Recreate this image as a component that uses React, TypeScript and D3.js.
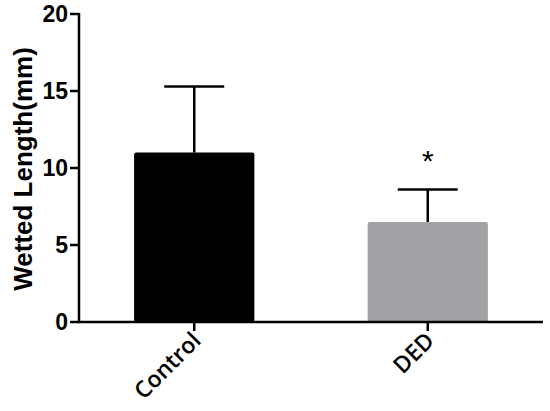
import React, { useEffect, useRef } from 'react';
import * as d3 from 'd3';

const groups = ['Control', 'DED'];
const means = [11.0, 6.5];
const errors = [4.3, 2.1];
const colors = ['#000000', '#a2a2a6'];
const marks = ['', '*'];
const yTicks = [0, 5, 10, 15, 20];

export default function App() {
  const ref = useRef<SVGSVGElement>(null);

  useEffect(() => {
    const svg = d3.select(ref.current);
    svg.selectAll('*').remove();

    const left = 79, right = 543, top = 14, bottom = 322;

    const y = d3.scaleLinear().domain([0, 20]).range([bottom, top]);
    const x = d3.scaleBand().domain(groups).range([left, right]).paddingInner(0.485).paddingOuter(0.236);
    const barW = x.bandwidth();
    const cx = (g: string) => (x(g) as number) + x.bandwidth() / 2;

    // bars
    svg.selectAll('rect.bar')
      .data(groups)
      .enter()
      .append('rect')
      .attr('x', d => cx(d) - barW / 2)
      .attr('y', (d, i) => y(means[i]))
      .attr('width', barW)
      .attr('height', (d, i) => y(0) - y(means[i]))
      .attr('rx', 2)
      .attr('fill', (d, i) => colors[i]);

    // error bars
    groups.forEach((g, i) => {
      svg.append('line')
        .attr('x1', cx(g)).attr('x2', cx(g))
        .attr('y1', y(means[i])).attr('y2', y(means[i] + errors[i]))
        .attr('stroke', 'black').attr('stroke-width', 2.5);
      svg.append('line')
        .attr('x1', cx(g) - 30).attr('x2', cx(g) + 30)
        .attr('y1', y(means[i] + errors[i])).attr('y2', y(means[i] + errors[i]))
        .attr('stroke', 'black').attr('stroke-width', 2.5);
      if (marks[i]) {
        svg.append('text')
          .attr('x', cx(g))
          .attr('y', y(means[i] + errors[i]) - 19)
          .attr('text-anchor', 'middle')
          .attr('font-family', 'Liberation Sans, Arial, sans-serif')
          .attr('font-size', 30)
          .text(marks[i]);
      }
    });

    // y axis
    svg.append('line')
      .attr('x1', left).attr('x2', left)
      .attr('y1', top - 1).attr('y2', bottom + 1)
      .attr('stroke', 'black').attr('stroke-width', 2.5);
    svg.selectAll('line.ytick')
      .data(yTicks)
      .enter()
      .append('line')
      .attr('x1', left - 9).attr('x2', left)
      .attr('y1', d => y(d)).attr('y2', d => y(d))
      .attr('stroke', 'black').attr('stroke-width', 2.5);
    svg.selectAll('text.ylab')
      .data(yTicks)
      .enter()
      .append('text')
      .attr('x', left - 11)
      .attr('y', d => y(d))
      .attr('dy', '0.36em')
      .attr('text-anchor', 'end')
      .attr('font-family', 'Liberation Sans, Arial, sans-serif')
      .attr('font-weight', 'bold')
      .attr('font-size', 23)
      .text(d => d);

    // x axis
    svg.append('line')
      .attr('x1', left - 1).attr('x2', right)
      .attr('y1', bottom).attr('y2', bottom)
      .attr('stroke', 'black').attr('stroke-width', 2.5);
    svg.selectAll('line.xtick')
      .data(groups)
      .enter()
      .append('line')
      .attr('x1', d => cx(d)).attr('x2', d => cx(d))
      .attr('y1', bottom).attr('y2', bottom + 9)
      .attr('stroke', 'black').attr('stroke-width', 2.5);
    svg.selectAll('text.xlab')
      .data(groups)
      .enter()
      .append('text')
      .attr('transform', d => `translate(${cx(d) + 8} ${bottom + 20}) rotate(-45)`)
      .attr('text-anchor', 'end')
      .attr('font-family', 'Open Sans, sans-serif')
      .attr('font-weight', 600)
      .attr('font-size', 23)
      .text(d => d);

    svg.append('text')
      .attr('transform', `translate(32 ${(top + bottom) / 2 + 1}) rotate(-90)`)
      .attr('text-anchor', 'middle')
      .attr('font-family', 'Liberation Sans, Arial, sans-serif')
      .attr('font-weight', 'bold')
      .attr('font-size', 26)
      .text('Wetted Length(mm)');
  }, []);

  return (
    <svg ref={ref} width={550} height={411} style={{ position: 'absolute', left: 0, top: 0, background: 'white' }} />
  );
}
